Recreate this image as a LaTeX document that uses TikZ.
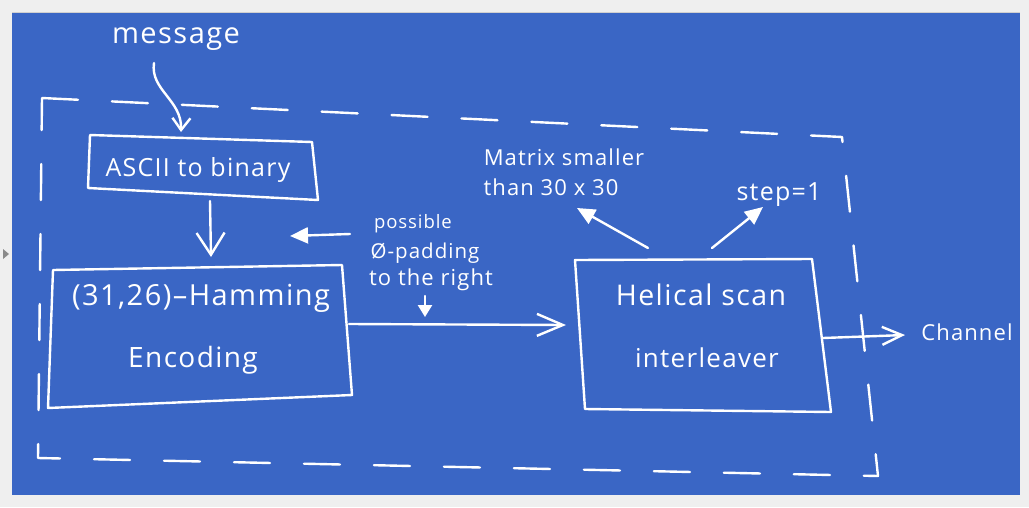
\documentclass[tikz,border=0pt]{standalone}
\usepackage{fontspec}
\setmainfont{Open Sans}[LetterSpace=5]
\usetikzlibrary{arrows.meta}
\definecolor{bg}{HTML}{3A66C5}
\definecolor{outer}{HTML}{EFEFEF}
\definecolor{edge}{HTML}{D0D0D0}
\definecolor{uigray}{HTML}{8A8A8A}
\begin{document}
\begin{tikzpicture}[x=1pt,y=-1pt,
  ink/.style={draw=white,line width=2.4pt,line cap=round,line join=round},
  frame/.style={ink,dash pattern=on 36pt off 34pt},
  txt/.style={text=white,anchor=base,inner sep=0pt},
  openhead/.style={-{Straight Barb[length=26pt,width=22pt]}},
  filledhead/.style={-{Triangle[length=18pt,width=16pt]}}]
% background
\fill[outer] (0,0) rectangle (1029,507);
\useasboundingbox (0,0) rectangle (1029,507);
\fill[bg] (12,12) rectangle (1020,495);
\draw[edge,line width=1pt] (12,12.5) -- (1020,12.5);
\fill[uigray] (3,249) -- (9,254) -- (3,259) -- cycle;
% dashed outer frame
\coordinate (fTL) at (42,98);
\coordinate (fTR) at (842,137);
\coordinate (fBR) at (878,476);
\coordinate (fBL) at (38,458);
\draw[frame] (fTL) -- (fTR) -- (fBR) -- (fBL) -- cycle;
% message
\node[txt,font=\fontsize{29}{31}\selectfont] (msg) at (176,43) {message};
% ASCII box
\coordinate (aTL) at (90,135);
\coordinate (aTR) at (312,142);
\coordinate (aBR) at (318,200);
\coordinate (aBL) at (88,188);
\draw[ink] (aTL) -- (aTR) -- (aBR) -- (aBL) -- cycle;
\node[txt,font=\fontsize{25}{27}\selectfont] (ascii) at (198,176) {ASCII to binary};
\coordinate (msgstart) at (154,63);
\coordinate (asciiin) at (181,132);
\draw[ink,-{Straight Barb[length=12pt,width=18pt]}] (msgstart) .. controls (150,90) and (182,100) .. (asciiin);
% Hamming box
\coordinate (hTL) at (53,270);
\coordinate (hTR) at (342,265);
\coordinate (hBR) at (352,395);
\coordinate (hBL) at (48,408);
\draw[ink] (hTL) -- (hTR) -- (hBR) -- (hBL) -- cycle;
\node[txt,font=\fontsize{29}{31}\selectfont] (ham1) at (201,305) {(31,26)–Hamming};
\node[txt,font=\fontsize{28}{30}\selectfont] (ham2) at (193,367) {Encoding};
\coordinate (asciiout) at (210,201);
\coordinate (hamin) at (211,257);
\draw[ink,-{Straight Barb[length=22pt,width=28pt]}] (asciiout) -- (hamin);
% padding note
\coordinate (padA) at (350,234);
\coordinate (padB) at (290,236);
\draw[ink,filledhead] (padA) -- (padB);
\node[txt,font=\fontsize{18.5}{20}\selectfont] (pos) at (413,228) {possible};
\node[txt,font=\fontsize{20.5}{22}\selectfont] (pad) at (425,258) {Ø-padding};
\node[txt,font=\fontsize{22}{24}\selectfont] (right) at (431,285) {to the right};
\coordinate (dA) at (425,296);
\coordinate (dB) at (425,317);
\draw[ink,-{Triangle[length=12pt,width=14pt]}] (dA) -- (dB);
% Helical box
\coordinate (iTL) at (575,260);
\coordinate (iTR) at (812,259);
\coordinate (iBR) at (831,412);
\coordinate (iBL) at (585,409);
\draw[ink] (iTL) -- (iTR) -- (iBR) -- (iBL) -- cycle;
\node[txt,font=\fontsize{28.5}{30}\selectfont] (hel1) at (701,305) {Helical scan};
\node[txt,font=\fontsize{26}{28}\selectfont] (hel2) at (707,367) {interleaver};
\coordinate (hamout) at (349,324);
\coordinate (helin) at (566,325);
\draw[ink,openhead] (hamout) -- (helin);
% Channel
\coordinate (helout) at (823,338);
\coordinate (chan) at (905,335);
\draw[ink,-{Straight Barb[length=20pt,width=18pt]}] (helout) -- (chan);
\node[txt,font=\fontsize{22}{24}\selectfont] (chtxt) at (967,340) {Channel};
% annotations
\node[txt,font=\fontsize{22}{24}\selectfont] (mat1) at (564,165) {Matrix smaller};
\node[txt,font=\fontsize{22}{24}\selectfont] (mat2) at (551,195) {than 30 x 30};
\node[txt,font=\fontsize{25}{27}\selectfont] (step1) at (779,200) {step=1};
\coordinate (mA) at (648,248);
\coordinate (mB) at (577,208);
\draw[ink,filledhead] (mA) -- (mB);
\coordinate (sA) at (712,248);
\coordinate (sB) at (763,207);
\draw[ink,filledhead] (sA) -- (sB);
\end{tikzpicture}
\end{document}
